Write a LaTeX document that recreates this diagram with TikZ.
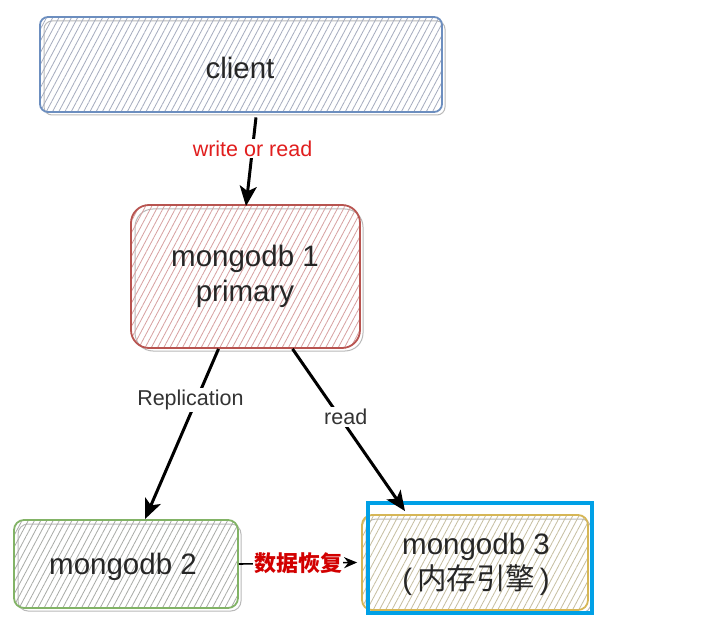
\documentclass[tikz,border=0pt]{standalone}
\usepackage{fontspec}
\setmainfont{Liberation Sans}
\newfontfamily\cjk{Noto Sans CJK SC}
\usetikzlibrary{arrows.meta,patterns.meta}
\definecolor{bluebd}{RGB}{108,142,191}
\definecolor{redbd}{RGB}{184,84,80}
\definecolor{greenbd}{RGB}{130,179,102}
\definecolor{yellowbd}{RGB}{214,182,86}
\definecolor{bluehatch}{RGB}{165,172,190}
\definecolor{redhatch}{RGB}{215,160,160}
\definecolor{greenhatch}{RGB}{168,170,166}
\definecolor{yellowhatch}{RGB}{198,190,160}
\definecolor{labred}{RGB}{225,30,30}
\definecolor{cnred}{RGB}{210,0,0}
\definecolor{labgray}{RGB}{51,51,51}
\definecolor{hilite}{RGB}{0,160,230}
\tikzset{
  box/.style={draw, line width=1.8pt, inner sep=0pt},
  boxtext/.style={inner sep=0pt, align=center, font=\fontsize{29.5}{35}\selectfont, text=black!85},
  hatch/.style={pattern={Lines[angle=62,distance=5.5pt,line width=0.8pt]}, pattern color=#1},
  conn/.style={line width=3pt, -{Stealth[length=20pt,width=17pt,inset=5pt]}},
  lab/.style={fill=white, inner sep=2pt, font=\fontsize{21.5}{25}\selectfont}
}
\begin{document}
\begin{tikzpicture}[x=1pt,y=-1pt]
\useasboundingbox (0,0) rectangle (709,644);
\fill[white] (0,0) rectangle (709,644);
% sketch shadows
\draw[gray!55, line width=1pt, rounded corners=8pt] (44,21) rectangle (445,115);
\draw[gray!55, line width=1pt, rounded corners=18pt] (135,209) rectangle (363,351);
\draw[gray!55, line width=1pt, rounded corners=10pt] (18,524) rectangle (241,611);
\draw[gray!55, line width=1pt, rounded corners=10pt] (366,519) rectangle (591,613);
% boxes
\node[box, draw=bluebd, hatch=bluehatch, rounded corners=8pt,
  minimum width=402pt, minimum height=95pt] (client) at (241,64.5) {};
\node[box, draw=redbd, hatch=redhatch, rounded corners=18pt,
  minimum width=229pt, minimum height=143pt] (m1) at (245.5,276.5) {};
\node[box, draw=greenbd, hatch=greenhatch, rounded corners=10pt,
  minimum width=224pt, minimum height=88pt] (m2) at (126,564) {};
\node[box, draw=yellowbd, hatch=yellowhatch, rounded corners=10pt,
  minimum width=226pt, minimum height=95pt] (m3) at (475,562.5) {};
\node[draw=hilite, line width=3.4pt, minimum width=224pt, minimum height=110pt,
  inner sep=0pt] (hl) at (480,558) {};
% texts
\node[boxtext] (tclient) at (240,68) {client};
\node[boxtext] (tm1) at (245,276) {mongodb 1\\primary};
\node[boxtext] (tm2) at (123,567) {mongodb 2};
\node[boxtext] (tm3) at (476,564) {mongodb 3\\(\,{\cjk 内存引擎}\,)};
% connectors
\draw[conn] ([xshift=15pt,yshift=-5pt]client.south) -- node[lab, text=labred, pos=0.35] {write or read} ([xshift=0.5pt,yshift=-2pt]m1.north);
\draw[conn] ([xshift=-27pt]m1.south) -- node[lab, text=labgray, pos=0.3, xshift=-6pt] {Replication} ([xshift=19pt]m2.north);
\draw[conn] ([xshift=47pt]m1.south) -- node[lab, text=labgray, pos=0.42, xshift=6pt] {read} ([xshift=-70pt,yshift=3pt]m3.north);
\draw[line width=1.6pt, -{Stealth[length=13pt,width=11pt]}] (m2.east) -- node[lab, inner sep=1pt, text=cnred, font=\cjk\bfseries\fontsize{22}{26}\selectfont] {数据恢复} ([xshift=-4pt]m3.west);
\end{tikzpicture}
\end{document}
